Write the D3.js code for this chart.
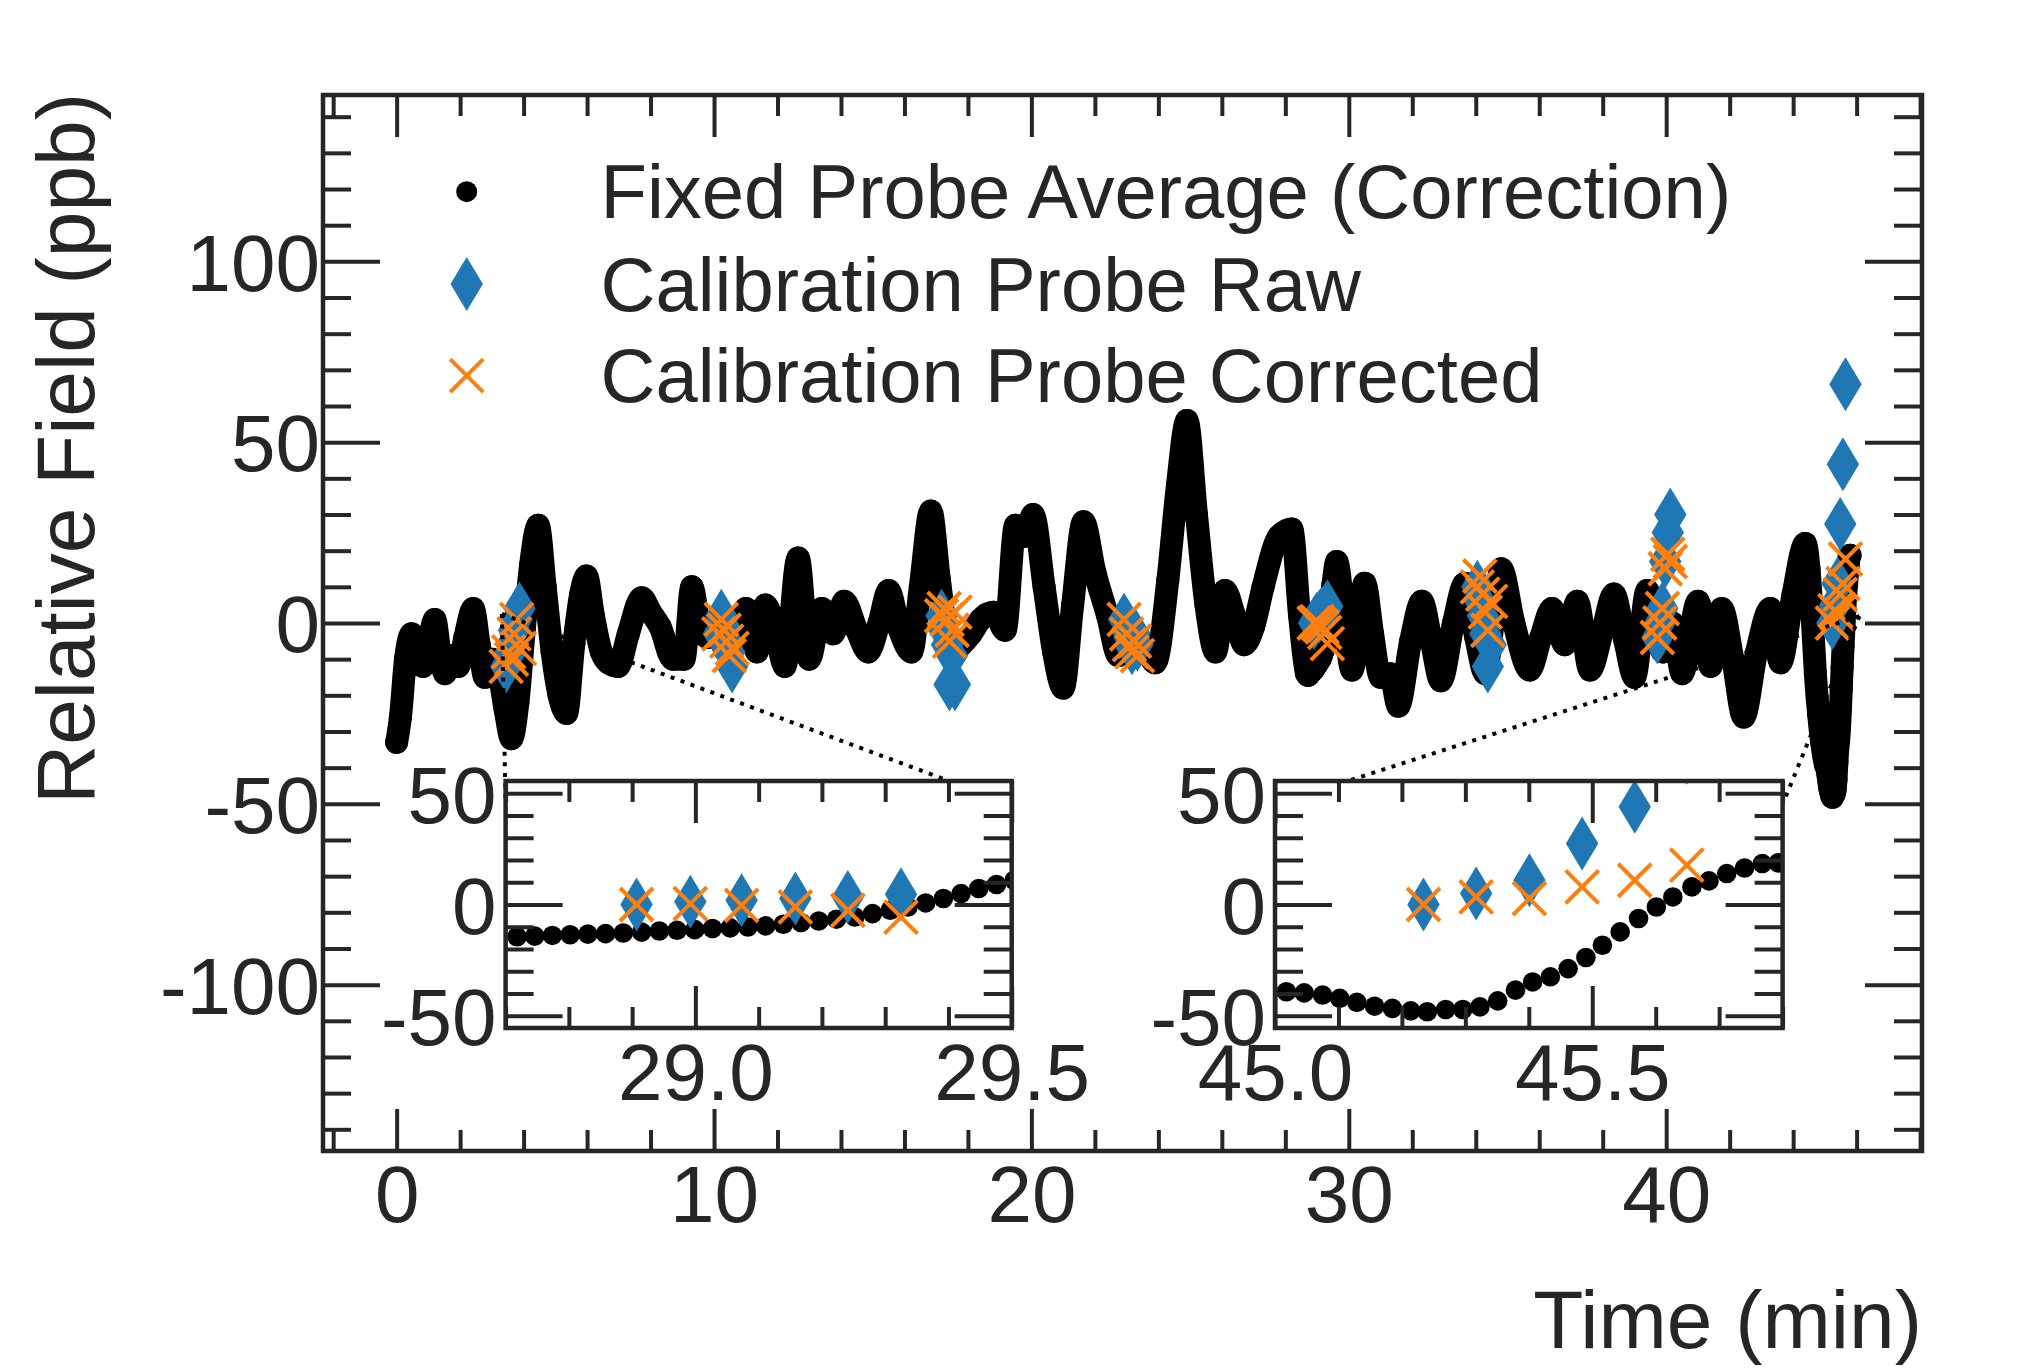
<!DOCTYPE html>
<html>
<head>
<meta charset="utf-8">
<script src="https://cdn.jsdelivr.net/npm/d3@7"></script>
<style>
html,body{margin:0;padding:0;background:#fff;}
svg{display:block;}
</style>
</head>
<body>
<svg id="chart" width="2025" height="1371"></svg>
<script>
// ---------------- DATA ----------------
// Fixed probe average, coarse reading of the main curve: [time (min), field (ppb)]
const fixedCoarse = [
 [0.00,-33],[0.12,-26],[0.28,-10],[0.47,-3],[0.65,-7],[0.83,-12],[1.02,-5],[1.20,1],[1.36,-8],[1.52,-14],
 [1.72,-9],[1.94,-12],[2.15,-4],[2.41,4],[2.60,-6],[2.78,-15],[3.00,-10],[3.20,-13],[3.42,-24],[3.62,-32],
 [3.82,-22],[4.02,-2],[4.22,16],[4.46,27],[4.68,10],[4.90,-8],[5.12,-20],[5.35,-25],[5.58,-6],[5.80,8],
 [5.98,13],[6.20,2],[6.45,-8],[6.67,-11],[6.98,-12],[7.30,-3],[7.72,7],[8.00,3],[8.30,-1],[8.70,-10],
 [9.05,-10],[9.30,10],[9.55,-1],[9.80,-4],[10.10,-3],[10.40,-8],[10.70,-4],[11.00,4],[11.35,-8],[11.62,5],
 [11.95,-3],[12.23,-12],[12.65,18],[13.00,-10],[13.40,4],[13.75,-3],[14.10,6],[14.50,-2],[14.86,-8],[15.20,0],
 [15.50,9],[15.85,-2],[16.22,-8],[16.50,10],[16.83,31],[17.10,12],[17.45,-8],[17.80,-6],[18.10,-3],[18.40,1],
 [18.80,3],[19.17,-2],[19.50,27],[19.80,24],[20.05,30],[20.40,10],[20.70,-8],[21.00,-18],[21.30,5],[21.64,28],
 [22.00,14],[22.40,2],[22.74,-9],[23.20,-3],[23.55,-6],[23.90,-11],[24.30,12],[24.60,38],[24.90,56],[25.20,30],
 [25.50,5],[25.80,-8],[26.10,9],[26.40,2],[26.70,-6],[27.00,-1],[27.30,10],[27.80,24],[28.20,26],[28.45,2],
 [28.67,-14],
 [29.62,17],[29.85,2],[30.10,-13],[30.50,11],[30.75,-3],[31.00,-15],[31.30,-14],[31.56,-23],[31.95,-5],[32.30,6],
 [32.60,-5],[32.90,-16],[33.30,0],[33.66,11],[34.00,-4],[34.30,-14],[34.55,0],[34.80,15],[35.20,0],[35.70,-13],
 [36.05,-4],[36.40,4],[36.80,-6],[37.20,6],[37.60,-13],[38.00,-2],[38.35,8],[38.70,-5],[39.00,-15],[39.40,9],
 [39.90,-8],[40.20,0],[40.50,-14],[41.00,6],[41.40,-12],[41.75,4],[42.10,-10],[42.44,-26],[42.85,-8],[43.28,4],
 [43.60,-11],[44.00,8],[44.38,22],[44.50,15],[44.60,2],[44.70,-14],[44.80,-25],[44.90,-33]
];

// Fixed probe average, individual samples seen in inset 1 (28.7 - 29.5 min)
const inset1Fixed = [
 [28.718,-14.5],[28.746,-14.2],[28.774,-13.9],[28.802,-13.6],[28.830,-13.3],[28.858,-13.1],[28.886,-12.8],
 [28.915,-12.4],[28.943,-11.9],[28.971,-11.6],[28.999,-11.3],[29.027,-10.8],[29.055,-10.5],[29.083,-10.1],
 [29.111,-9.6],[29.139,-8.9],[29.167,-8.1],[29.195,-7.4],[29.223,-6.6],[29.252,-5.6],[29.280,-4.1],
 [29.308,-2.6],[29.336,-1.1],[29.364,0.7],[29.392,2.7],[29.420,4.9],[29.448,7.2],[29.476,9.0],[29.504,10.9]
];

// Fixed probe average, individual samples seen in inset 2 (45.0 - 45.8 min)
const inset2Fixed = [
 [45.018,-39.2],[45.046,-39.7],[45.075,-40.7],[45.102,-42.2],[45.129,-44.0],[45.157,-45.7],[45.185,-46.7],
 [45.214,-47.8],[45.240,-48.2],[45.269,-47.2],[45.296,-47.2],[45.323,-46.0],[45.351,-43.3],[45.379,-38.5],
 [45.406,-34.8],[45.434,-32.5],[45.462,-28.8],[45.490,-23.8],[45.516,-18.3],[45.544,-12.3],[45.573,-6.3],
 [45.601,-1.1],[45.627,3.4],[45.657,7.9],[45.684,10.6],[45.712,13.9],[45.740,16.4],[45.768,18.4],[45.793,18.7]
];

// Calibration probe: time (min), raw (ppb), corrected (ppb)
const calTime = [3.45,3.53,3.62,3.70,3.78,3.87, 10.15,10.23,10.32,10.40,10.48,10.57,
  17.17,17.25,17.34,17.42,17.50,17.59, 22.92,23.00,23.09,23.17,23.25,23.34,
  28.907,28.992,29.073,29.158,29.241,29.325, 34.05,34.13,34.22,34.30,34.38,34.47,
  39.72,39.80,39.88,39.97,40.05,40.13, 45.234,45.317,45.401,45.484,45.567,45.649];
const calRaw = [-12,-9,-6,-2,1,4, -3,2,-1,-5,-8,-12,
  2,-2,-6,-17,-9,-17, 1,-2,-4,-7,-3,-6,
  0,1.2,1.9,2.7,3.4,4.6, 10,6,2,-3,-12,-6,
  -4,0,4,17,25,30, 0,4.9,10.9,27.4,43.9,66];
const calCorrected = [-12,-8,-10,-3,1,-7, -3,1,-2,-5,-9,-7,
  2,4,1,-5,-2,3, 1,-3,-6,-8,-5,-9,
  0,0.4,-0.4,-1.1,-2.6,-5.7, 10,13,8,3,-2,6,
  -4,0,4,15,19,17, 0,3.4,2.7,7.9,10.9,17.7];

// Tick values and labels
const xTickValues = [0,10,20,30,40];
const yTickValues = [-100,-50,0,50,100];
const inset1XTicks = [29.0,29.5];
const inset2XTicks = [45.0,45.5];
const insetYTicks = [-50,0,50];
const legendLabels = ["Fixed Probe Average (Correction)","Calibration Probe Raw","Calibration Probe Corrected"];
const xLabel = "Time (min)";
const yLabel = "Relative Field (ppb)";

// ---------------- LAYOUT / STYLE ----------------
const INK = "#262626", BLUE = "#1f77b4", ORANGE = "#ff7f0e";
const FONT = "'Liberation Sans', Arial, Helvetica, sans-serif";
const TICK_FS = 80, LEG_FS = 76, LAB_FS = 82;
const TL = {xMaj:42, xMin:21, yMaj:57, yMin:28};

const svg = d3.select("#chart");
svg.append("rect").attr("width",2025).attr("height",1371).attr("fill","#fff");

const box = {x0:323, x1:1922, y0:95, y1:1151};
const x = d3.scaleLinear().domain([-2.32, 48.06]).range([box.x0, box.x1]);
const y = d3.scaleLinear().domain([-146, 146]).range([box.y1, box.y0]);

const fixedAll = d3.sort([...fixedCoarse, ...inset1Fixed, ...inset2Fixed], d => d[0]);
const cal = calTime.map((t,i) => ({t, raw: calRaw[i], corr: calCorrected[i]}));

const diamondPath = "M0,-27L16.2,0L0,27L-16.2,0Z";
const crossPath = "M-16.5,-16.5L16.5,16.5M-16.5,16.5L16.5,-16.5";

function drawFixed(g, xs, ys, data, r, lineW) {
  if (lineW) {
    g.append("path").datum(data)
      .attr("d", d3.line().x(d => xs(d[0])).y(d => ys(d[1])).curve(d3.curveMonotoneX))
      .attr("fill","none").attr("stroke","#000").attr("stroke-width",lineW)
      .attr("stroke-linejoin","round").attr("stroke-linecap","round");
  }
  g.append("g").selectAll("circle").data(data).join("circle")
    .attr("cx", d => xs(d[0])).attr("cy", d => ys(d[1])).attr("r", r).attr("fill","#000");
}
function drawCal(g, xs, ys, data) {
  g.append("g").selectAll("path").data(data).join("path")
    .attr("d", diamondPath)
    .attr("transform", d => `translate(${xs(d.t)},${ys(d.raw)})`)
    .attr("fill", BLUE);
  g.append("g").selectAll("path").data(data).join("path")
    .attr("d", crossPath)
    .attr("transform", d => `translate(${xs(d.t)},${ys(d.corr)})`)
    .attr("fill","none").attr("stroke", ORANGE).attr("stroke-width",4);
}
function styleAxis(sel, dyLeft) {
  sel.select(".domain").remove();
  sel.attr("font-family", FONT).attr("font-size", TICK_FS).attr("color", INK);
  sel.selectAll("line").attr("stroke-width", 4);
  sel.selectAll("text").attr("fill", INK);
  if (dyLeft) sel.selectAll("text").attr("dy", dyLeft);
}
function drawAxes(g, xs, ys, b, xMaj, xMin, yMaj, yMin, xFmt, yFmt, xPad, yPad) {
  g.append("g").attr("transform",`translate(0,${b.y1})`)
    .call(d3.axisBottom(xs).tickValues(xMaj).tickSize(-TL.xMaj).tickPadding(xPad).tickFormat(xFmt))
    .call(s => styleAxis(s));
  g.append("g").attr("transform",`translate(0,${b.y1})`)
    .call(d3.axisBottom(xs).tickValues(xMin).tickSize(-TL.xMin).tickFormat(""))
    .call(s => styleAxis(s));
  g.append("g").attr("transform",`translate(0,${b.y0})`)
    .call(d3.axisTop(xs).tickValues(xMaj).tickSize(-TL.xMaj).tickFormat(""))
    .call(s => styleAxis(s));
  g.append("g").attr("transform",`translate(0,${b.y0})`)
    .call(d3.axisTop(xs).tickValues(xMin).tickSize(-TL.xMin).tickFormat(""))
    .call(s => styleAxis(s));
  g.append("g").attr("transform",`translate(${b.x0},0)`)
    .call(d3.axisLeft(ys).tickValues(yMaj).tickSize(-TL.yMaj).tickPadding(yPad).tickFormat(yFmt))
    .call(s => styleAxis(s, "0.36em"));
  g.append("g").attr("transform",`translate(${b.x0},0)`)
    .call(d3.axisLeft(ys).tickValues(yMin).tickSize(-TL.yMin).tickFormat(""))
    .call(s => styleAxis(s));
  g.append("g").attr("transform",`translate(${b.x1},0)`)
    .call(d3.axisRight(ys).tickValues(yMaj).tickSize(-TL.yMaj).tickFormat(""))
    .call(s => styleAxis(s));
  g.append("g").attr("transform",`translate(${b.x1},0)`)
    .call(d3.axisRight(ys).tickValues(yMin).tickSize(-TL.yMin).tickFormat(""))
    .call(s => styleAxis(s));
  g.append("rect").attr("x",b.x0).attr("y",b.y0).attr("width",b.x1-b.x0).attr("height",b.y1-b.y0)
    .attr("fill","none").attr("stroke",INK).attr("stroke-width",4.5);
}

// ---------------- MAIN PLOT ----------------
const mainG = svg.append("g");
drawFixed(mainG, x, y, fixedAll, 11.5, 23);
drawCal(mainG, x, y, cal);

// ---------------- INSET CONFIG ----------------
const insetYDomain = [-55.5, 55.5];
const insetSpecs = [
  {box:{x0:505.6, x1:1011.7, y0:781, y1:1028}, xDomain:[28.7,29.5], xTicks: inset1XTicks, fixed: inset1Fixed, anchor:[3.315, 2.5]},
  {box:{x0:1275, x1:1782.6, y0:781, y1:1028}, xDomain:[45.0,45.8], xTicks: inset2XTicks, fixed: inset2Fixed, anchor:[46.09, 1.9]}
];
insetSpecs.forEach(s => {
  s.xs = d3.scaleLinear().domain(s.xDomain).range([s.box.x0, s.box.x1]);
  s.ys = d3.scaleLinear().domain(insetYDomain).range([s.box.y1, s.box.y0]);
});

// connector lines (dotted), drawn over main data but below insets
const connG = svg.append("g");
insetSpecs.forEach(s => {
  [s.xDomain[0], s.xDomain[1]].forEach(xe => {
    connG.append("line")
      .attr("x1", x(s.anchor[0])).attr("y1", y(s.anchor[1]))
      .attr("x2", s.xs(xe)).attr("y2", s.ys(45))
      .attr("stroke","#000").attr("stroke-width",4).attr("stroke-dasharray","4,6.6");
  });
});

// main axes
drawAxes(svg.append("g"), x, y, box,
  xTickValues,
  d3.range(-2, 49, 2).filter(v => !xTickValues.includes(v)),
  yTickValues,
  d3.range(-140, 141, 10).filter(v => v % 50 !== 0),
  d => String(d), d => String(d), 14, 3);

// ---------------- INSETS ----------------
insetSpecs.forEach((s, i) => {
  const g = svg.append("g");
  const b = s.box;
  g.append("rect").attr("x",b.x0).attr("y",b.y0).attr("width",b.x1-b.x0).attr("height",b.y1-b.y0).attr("fill","#fff");
  const cid = "clip-inset-" + i;
  g.append("clipPath").attr("id", cid).append("rect")
    .attr("x",b.x0).attr("y",b.y0).attr("width",b.x1-b.x0).attr("height",b.y1-b.y0);
  const dg = g.append("g").attr("clip-path", `url(#${cid})`);
  drawFixed(dg, s.xs, s.ys, s.fixed, 9.8, 0);
  drawCal(dg, s.xs, s.ys, cal.filter(d => d.t > s.xDomain[0]-0.06 && d.t < s.xDomain[1]+0.06));
  const lo = Math.round(s.xDomain[0]*10), hi = Math.round(s.xDomain[1]*10);
  const xMin = d3.range(lo, hi+1).map(v => v/10).filter(v => !s.xTicks.some(t => Math.abs(t-v) < 1e-6));
  drawAxes(g, s.xs, s.ys, b, s.xTicks, xMin, insetYTicks,
    d3.range(-50, 51, 10).filter(v => v % 50 !== 0),
    d3.format(".1f"), d => String(d), 15, 9);
});

// ---------------- LEGEND ----------------
const leg = svg.append("g");
const legX = 466.7, legTextX = 600.5, legY = [191.7, 284, 375.7];
leg.append("circle").attr("cx",legX).attr("cy",legY[0]).attr("r",10.5).attr("fill","#000");
leg.append("path").attr("d",diamondPath).attr("transform",`translate(${legX},${legY[1]})`).attr("fill",BLUE);
leg.append("path").attr("d",crossPath).attr("transform",`translate(${legX},${legY[2]})`)
  .attr("fill","none").attr("stroke",ORANGE).attr("stroke-width",4);
legendLabels.forEach((t, i) => {
  leg.append("text").attr("x",legTextX).attr("y",legY[i]+26.5)
    .attr("font-family",FONT).attr("font-size",LEG_FS).attr("fill",INK).text(t);
});

// ---------------- AXIS LABELS ----------------
svg.append("text").attr("x",box.x1).attr("y",1348)
  .attr("text-anchor","end").attr("font-family",FONT).attr("font-size",LAB_FS).attr("fill",INK).text(xLabel);
svg.append("text").attr("transform",`translate(94,${box.y0-2}) rotate(-90)`)
  .attr("text-anchor","end").attr("font-family",FONT).attr("font-size",LAB_FS).attr("fill",INK).text(yLabel);
</script>
</body>
</html>
